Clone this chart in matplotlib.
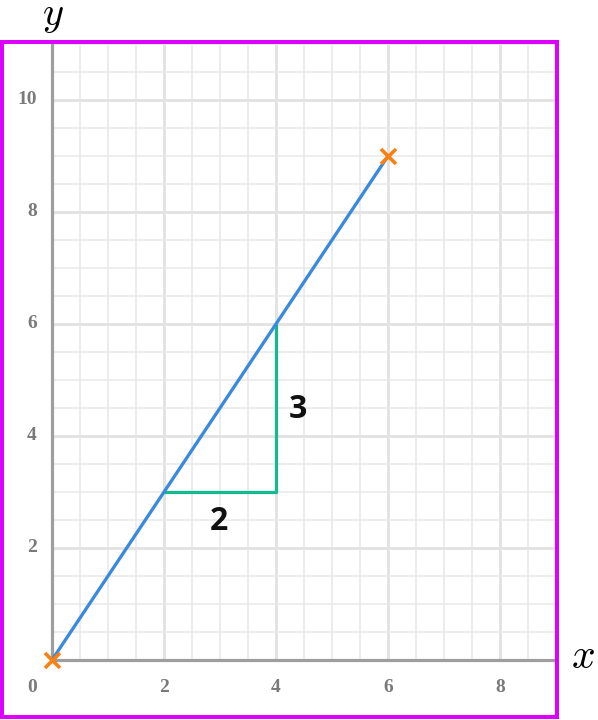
import numpy as np
import matplotlib
matplotlib.use("Agg")
import matplotlib.pyplot as plt

# Data
line_x = [0, 6]
line_y = [0, 9]
marker_x = [0, 6]
marker_y = [0, 9]
tri_x = [2, 4, 4]
tri_y = [3, 3, 6]
run_label = "2"
rise_label = "3"
xtick_vals = [0, 2, 4, 6, 8]
ytick_vals = [2, 4, 6, 8, 10]

W, H = 598, 720
fig = plt.figure(figsize=(W / 100, H / 100), dpi=100)
plt.rcParams['mathtext.fontset'] = 'cm'

left_px, right_px, top_px, bottom_px = 2, 557, 42, 717
ax = fig.add_axes([left_px / W, 1 - bottom_px / H,
                   (right_px - left_px) / W, (bottom_px - top_px) / H])
x0_px, y0_px, unit = 52, 660, 56
xmin = (left_px - x0_px) / unit
xmax = (right_px - x0_px) / unit
ymin = (y0_px - bottom_px) / unit
ymax = (y0_px - top_px) / unit
ax.set_xlim(xmin, xmax)
ax.set_ylim(ymin, ymax)
ax.set_xticks([])
ax.set_yticks([])
for s in ax.spines.values():
    s.set_color('#DD00FF')
    s.set_linewidth(2.9)
    s.set_zorder(10)

px = 72 / 100  # points per pixel

# grid (positive quadrant only)
minor_x = np.arange(0.5, xmax, 0.5)
minor_y = np.arange(0.5, ymax, 0.5)
for v in minor_x:
    major = abs(v / 2 - round(v / 2)) < 1e-9
    ax.plot([v, v], [0, ymax], color='#E3E3E3' if major else '#E8E8E8',
            lw=(3 if major else 1.5) * px, zorder=1, solid_capstyle='butt')
for v in minor_y:
    major = abs(v / 2 - round(v / 2)) < 1e-9
    ax.plot([0, xmax], [v, v], color='#E3E3E3' if major else '#E8E8E8',
            lw=(3 if major else 1.5) * px, zorder=1, solid_capstyle='butt')

# axes lines
ax.plot([0, 0], [0, ymax], color='#9E9E9E', lw=3.2 * px, zorder=2, solid_capstyle='butt')
ax.plot([0, xmax], [0, 0], color='#9E9E9E', lw=3.2 * px, zorder=2, solid_capstyle='butt')

# tick labels
tick_font = dict(family='Liberation Serif', weight='bold', color='#7A7A7A', fontsize=14)
for v in xtick_vals:
    xx = -0.27 if v == 0 else v
    ax.text(xx, -0.57, str(v), ha='right' if v == 0 else 'center', va='baseline', **tick_font)
for v in ytick_vals:
    ax.text(-0.27, v - 0.07, str(v), ha='right', va='baseline', **tick_font)

# triangle
ax.plot(tri_x, tri_y, color='#13BB8C', lw=3.2 * px, zorder=3, solid_capstyle='butt')
# line
ax.plot(line_x, line_y, color='#3A8ADB', lw=3.3 * px, zorder=4, solid_capstyle='butt')
# markers
ax.plot(marker_x, marker_y, ls='none', marker='x', ms=15 * px, mew=3.6 * px,
        color='#F98012', zorder=5, clip_on=False)

lab_font = dict(family='Open Sans', weight='bold', color='#111111', fontsize=23)
ax.text(2.98, 2.32, run_label, ha='center', va='baseline', **lab_font)
ax.text(4.40, 4.32, rise_label, ha='center', va='baseline', **lab_font)

# axis names
fig.text(53 / W, 1 - 25 / H, r'$y$', ha='center', va='baseline', fontsize=29)
fig.text(583 / W, 1 - 668 / H, r'$x$', ha='center', va='baseline', fontsize=30)

fig.savefig('out.png', dpi=100)
